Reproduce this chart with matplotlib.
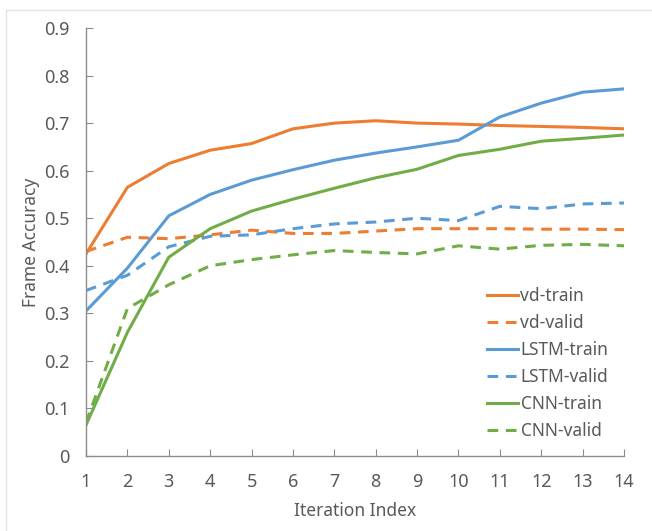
import matplotlib.pyplot as plt
from matplotlib.patches import Rectangle

plt.rcParams['font.family'] = ['Noto Sans', 'DejaVu Sans']

# Data
iterations = list(range(1, 15))
vd_train = [0.425, 0.565, 0.615, 0.643, 0.657, 0.688, 0.700, 0.705, 0.700, 0.698, 0.695, 0.693, 0.691, 0.688]
vd_valid = [0.430, 0.460, 0.457, 0.465, 0.475, 0.468, 0.468, 0.473, 0.478, 0.478, 0.478, 0.477, 0.477, 0.476]
lstm_train = [0.305, 0.395, 0.505, 0.550, 0.580, 0.602, 0.622, 0.637, 0.650, 0.664, 0.713, 0.742, 0.765, 0.772]
lstm_valid = [0.348, 0.380, 0.440, 0.462, 0.465, 0.478, 0.488, 0.492, 0.500, 0.495, 0.525, 0.520, 0.530, 0.532]
cnn_train = [0.065, 0.260, 0.418, 0.478, 0.515, 0.540, 0.563, 0.585, 0.603, 0.632, 0.645, 0.662, 0.668, 0.675]
cnn_valid = [0.070, 0.310, 0.360, 0.400, 0.413, 0.423, 0.432, 0.428, 0.425, 0.442, 0.435, 0.443, 0.445, 0.442]

orange = '#ED7D31'
blue = '#5B9BD5'
green = '#70AD47'
grey = '#595959'

fig = plt.figure(figsize=(6.52, 5.31), dpi=100)
# faint frame round the chart area
fig.patches.append(Rectangle((6 / 652, -0.05), 1.2, (531 - 10) / 531 + 0.05,
                             transform=fig.transFigure, facecolor='none',
                             edgecolor='#e3e3e3', lw=1.0))
ax = fig.add_axes([86 / 652, (531 - 456) / 531, (624 - 86) / 652, (456 - 28) / 531])

lw = 2.2
dash = (0, (3.5, 2.5))
ax.plot(iterations, vd_train, color=orange, lw=lw, label='vd-train')
ax.plot(iterations, vd_valid, color=orange, lw=lw, ls=dash, label='vd-valid')
ax.plot(iterations, lstm_train, color=blue, lw=lw, label='LSTM-train')
ax.plot(iterations, lstm_valid, color=blue, lw=lw, ls=dash, label='LSTM-valid')
ax.plot(iterations, cnn_train, color=green, lw=lw, label='CNN-train')
ax.plot(iterations, cnn_valid, color=green, lw=lw, ls=dash, label='CNN-valid')

ax.set_xlim(1, 14)
ax.set_ylim(0, 0.9)
ax.set_xticks(iterations)
ax.set_yticks([i / 10 for i in range(10)])
ax.set_yticklabels(['0'] + [f'{i / 10:.1f}' for i in range(1, 10)])

for side in ['top', 'right']:
    ax.spines[side].set_visible(False)
for side in ['left', 'bottom']:
    ax.spines[side].set_color('#8c8c8c')
    ax.spines[side].set_linewidth(1.0)
ax.tick_params(direction='in', length=5, color='#8c8c8c', labelcolor=grey, labelsize=13)
ax.tick_params(axis='x', pad=12)
ax.tick_params(axis='y', pad=12)

ax.set_xlabel('Iteration Index', color=grey, fontsize=12.5, labelpad=8)
ax.set_ylabel('Frame Accuracy', color=grey, fontsize=12.5, labelpad=3)

leg = ax.legend(loc='lower right', bbox_to_anchor=(1.0, 0.0), frameon=False,
                fontsize=12.5, handlelength=1.8, handletextpad=0.15, labelspacing=0.52,
                labelcolor=grey)

fig.savefig('out.png', dpi=100, facecolor='white')
